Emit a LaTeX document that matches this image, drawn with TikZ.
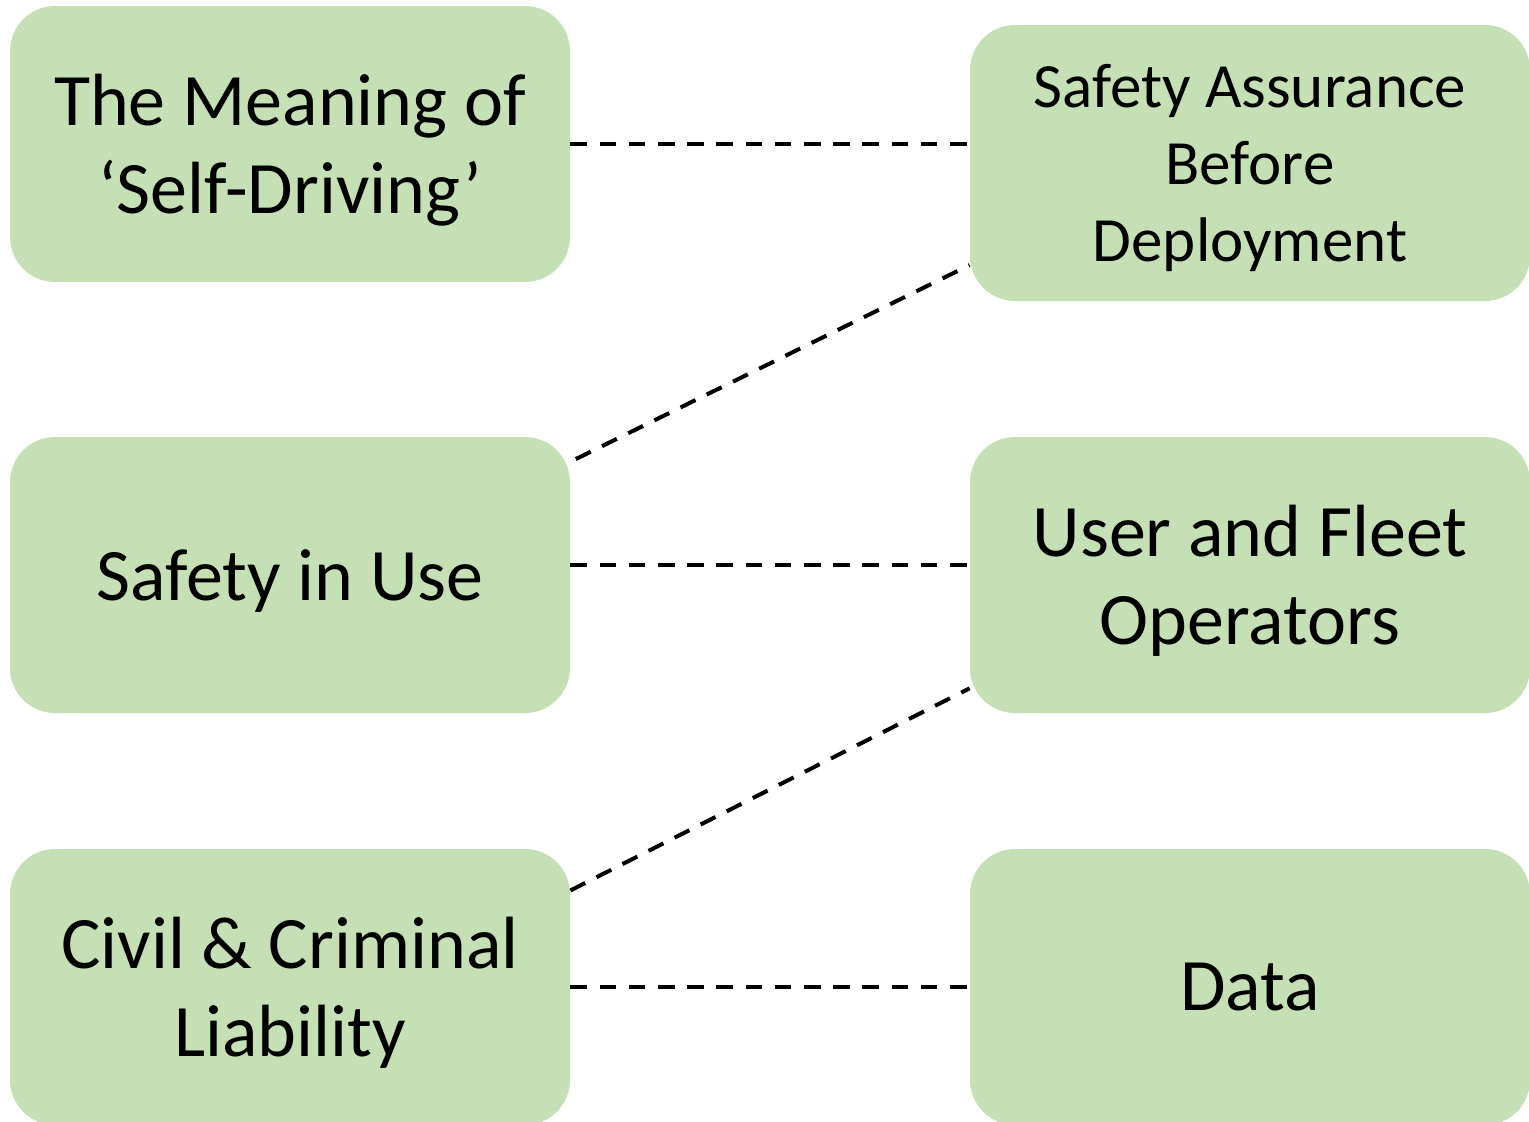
\documentclass[tikz,border=0pt]{standalone}
\usepackage{fontspec}
\setmainfont{Carlito}
\definecolor{boxgreen}{HTML}{C5E0B4}

\begin{document}
\begin{tikzpicture}[x=0.5pt,y=-0.5pt,
	topic/.style={fill=boxgreen,rounded corners=22.5pt,minimum width=280pt,minimum height=138pt,inner sep=0pt,text depth=0pt,align=center,font=\fontsize{37}{44}\selectfont},
	link/.style={line width=2pt,dash pattern=on 8.3pt off 6.3pt}]
	\useasboundingbox (0,0) rectangle (1529,1121);
	\clip (0,0) rectangle (1529,1121);
	
	%LEFT
	\node[topic] (meaning) at (290,144) {The Meaning of\\‘Self-Driving’};
	\node[topic] (inuse) at (290,575) {Safety in Use};
	\node[topic] (liability) at (290,987) {Civil \& Criminal\\Liability};
	
	%RIGHT
	\node[topic,font=\fontsize{31.5}{38.5}\selectfont] (assurance) at (1250,163) {Safety Assurance\\Before\\Deployment};
	\node[topic] (operators) at (1250,575) {User and Fleet\\Operators};
	\node[topic] (data) at (1250,987) {Data};
	
	%LINKS
	\draw[link] (meaning.east) -- (meaning.east -| assurance.west);
	\draw[link,shorten <=3pt] (inuse.22.5) -- (assurance.200);
	\draw[link] ([yshift=5pt]inuse.east) -- ([yshift=5pt]inuse.east -| operators.west);
	\draw[link] (liability.19.5) -- (operators.202.5);
	\draw[link] (liability.east) -- (data.west);
\end{tikzpicture}
\end{document}
